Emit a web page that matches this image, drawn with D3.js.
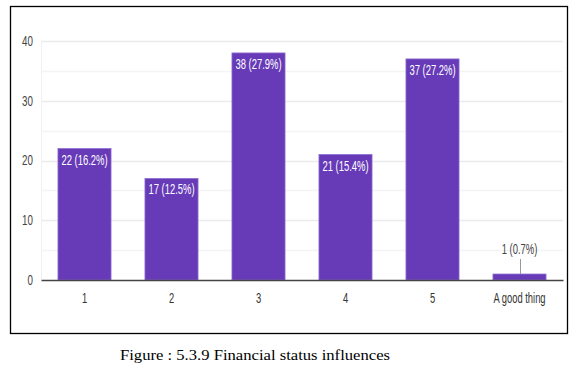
<!DOCTYPE html>
<html>
<head>
<meta charset="utf-8">
<script src="https://cdn.jsdelivr.net/npm/d3@7"></script>
<style>
  body { margin: 0; background: #fff; }
  svg { display: block; }
  .caption { font-family: 'Liberation Serif', 'Times New Roman', serif; }
</style>
</head>
<body>
<svg width="575" height="372"></svg>
<script>
var categories = ['1', '2', '3', '4', '5', 'A good thing'];
var counts = [22, 17, 38, 21, 37, 1];
var percents = ['16.2%', '12.5%', '27.9%', '15.4%', '27.2%', '0.7%'];
var yTicks = [0, 10, 20, 30, 40];
var caption = 'Figure : 5.3.9 Financial status influences';

var data = categories.map(function(c, i) {
  return { cat: c, n: counts[i], label: counts[i] + ' (' + percents[i] + ')' };
});

var svg = d3.select('svg');

// squash text horizontally, the screenshot was narrowed
function squeeze(sel, k) {
  sel.each(function() {
    var len = this.getComputedTextLength();
    d3.select(this).attr('textLength', len * k).attr('lengthAdjust', 'spacingAndGlyphs');
  });
}

var x = d3.scaleBand()
      .domain(categories)
      .range([41, 563])
      .paddingInner(0.39)
      .paddingOuter(0.195),
    y = d3.scaleLinear()
      .domain([0, 40])
      .range([280, 41]);

// frame
svg.append('rect')
  .attr('x', 10.5).attr('y', 6.5)
  .attr('width', 557).attr('height', 327)
  .attr('fill', 'none')
  .attr('stroke', '#000')
  .attr('stroke-width', 1.3);

// grid
svg.append('g').selectAll('line')
  .data(y.ticks(8).filter(function(d) { return d > 0; }))
  .enter()
  .append('line')
  .attr('x1', 41).attr('x2', 563)
  .attr('y1', function(d) { return Math.round(y(d)) + 0.5; })
  .attr('y2', function(d) { return Math.round(y(d)) + 0.5; })
  .attr('stroke', function(d) { return d % 10 ? '#f4f4f4' : '#ebebeb'; })
  .attr('stroke-width', 1.5);

svg.append('line')
  .attr('x1', 41.5).attr('x2', 41.5)
  .attr('y1', 41).attr('y2', 280)
  .attr('stroke', '#f0f0f0');

// y axis
var yAxis = svg.append('g')
  .attr('transform', 'translate(33,0)')
  .call(d3.axisLeft(y).tickValues(yTicks).tickSize(0).tickPadding(0));
yAxis.select('.domain').remove();
yAxis.selectAll('text')
  .attr('font-family', 'Liberation Sans, Arial, sans-serif')
  .attr('font-size', 14)
  .attr('fill', '#444')
  .call(squeeze, 0.7);

// bars
svg.append('g').selectAll('rect')
  .data(data)
  .enter()
  .append('rect')
  .attr('x', function(d) { return x(d.cat); })
  .attr('y', function(d) { return y(d.n); })
  .attr('width', x.bandwidth())
  .attr('height', function(d) { return y(0) - y(d.n); })
  .attr('fill', '#673ab7')
  .attr('stroke', '#8f6fd0')
  .attr('stroke-width', 0.8);

// x axis
var xAxis = svg.append('g')
  .attr('transform', 'translate(0,280)')
  .call(d3.axisBottom(x).tickSize(0).tickPadding(13));
xAxis.select('.domain')
  .attr('stroke', '#444')
  .attr('stroke-width', 1.5);
xAxis.selectAll('text')
  .attr('font-family', 'Liberation Sans, Arial, sans-serif')
  .attr('font-size', 14)
  .attr('fill', '#333')
  .call(squeeze, 0.67);

// value labels
var inside = data.filter(function(d) { return y(0) - y(d.n) > 25; }),
    outside = data.filter(function(d) { return y(0) - y(d.n) <= 25; });

svg.append('g').selectAll('text')
  .data(inside)
  .enter()
  .append('text')
  .attr('x', function(d) { return x(d.cat) + x.bandwidth() / 2; })
  .attr('y', function(d) { return y(d.n) + 16; })
  .attr('text-anchor', 'middle')
  .attr('font-family', 'Liberation Sans, Arial, sans-serif')
  .attr('font-size', 15)
  .attr('fill', '#fff')
  .text(function(d) { return d.label; })
  .call(squeeze, 0.63);

var out = svg.append('g').selectAll('g')
  .data(outside)
  .enter()
  .append('g');
out.append('line')
  .attr('x1', function(d) { return Math.round(x(d.cat) + x.bandwidth() / 2) + 0.5; })
  .attr('x2', function(d) { return Math.round(x(d.cat) + x.bandwidth() / 2) + 0.5; })
  .attr('y1', function(d) { return y(d.n); })
  .attr('y2', function(d) { return y(d.n) - 15; })
  .attr('stroke', '#999');
out.append('text')
  .attr('x', function(d) { return x(d.cat) + x.bandwidth() / 2; })
  .attr('y', function(d) { return y(d.n) - 20; })
  .attr('text-anchor', 'middle')
  .attr('font-family', 'Liberation Sans, Arial, sans-serif')
  .attr('font-size', 15)
  .attr('fill', '#444')
  .text(function(d) { return d.label; })
  .call(squeeze, 0.63);

// caption
svg.append('text')
  .attr('class', 'caption')
  .attr('x', 120)
  .attr('y', 360)
  .attr('font-size', 15.5)
  .attr('fill', '#000')
  .attr('textLength', 270)
  .attr('lengthAdjust', 'spacingAndGlyphs')
  .text(caption);
</script>
</body>
</html>
